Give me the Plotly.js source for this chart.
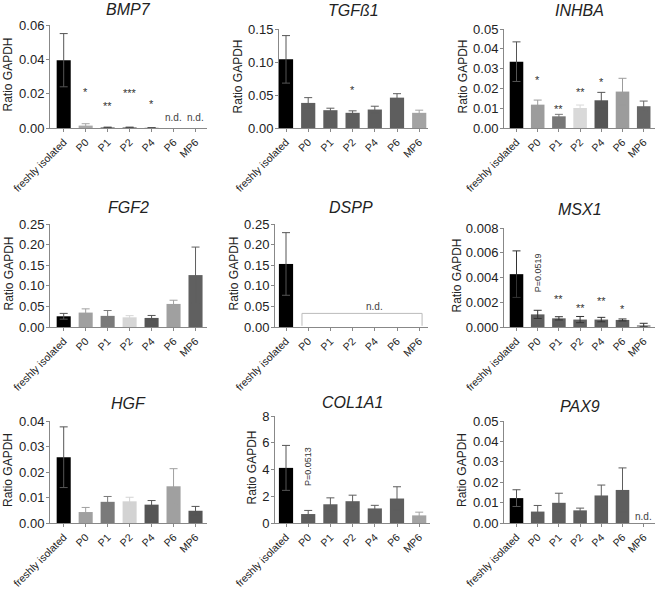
<!DOCTYPE html>
<html>
<head>
<meta charset="utf-8">
<script src="https://cdn.plot.ly/plotly-3.0.1.min.js"></script>
<style>
  html, body { margin: 0; padding: 0; background: #fff; }
  #chart { width: 656px; height: 591px; }
</style>
</head>
<body>
<div id="chart"></div>
<script>
// CATEGORIES (same for every gene)
var cats = ['freshly isolated', 'P0', 'P1', 'P2', 'P4', 'P6', 'MP6'];

// MEAN RATIO TO GAPDH, null = n.d.
var bmp7   = [0.0395, 0.0014, 0.0003, 0.0003, 0.0001, null, null];
var tgfb1  = [0.104, 0.038, 0.027, 0.023, 0.028, 0.046, 0.023];
var inhba  = [0.0335, 0.0118, 0.0059, 0.0101, 0.0140, 0.0184, 0.0110];
var fgf2   = [0.026, 0.035, 0.027, 0.0235, 0.022, 0.056, 0.126];
var dspp   = [0.153, null, null, null, null, null, null];
var msx1   = [0.00427, 0.00102, 0.0007, 0.0006, 0.0006, 0.00057, 0.00016];
var hgf    = [0.0258, 0.0043, 0.0083, 0.0085, 0.0072, 0.0144, 0.0048];
var col1a1 = [4.12, 0.67, 1.40, 1.63, 1.09, 1.83, 0.57];
var pax9   = [0.0122, 0.0056, 0.0099, 0.0062, 0.0135, 0.0162, null];

// ERROR BARS (SEM)
var bmp7Err   = [0.0155, 0.0011, 0.0002, 0.0002, 0, null, null];
var tgfb1Err  = [0.036, 0.008, 0.003, 0.003, 0.005, 0.006, 0.004];
var inhbaErr  = [0.0100, 0.0023, 0.0010, 0.0015, 0.0040, 0.0067, 0.0026];
var fgf2Err   = [0.007, 0.009, 0.013, 0.004, 0.006, 0.009, 0.068];
var dsppErr   = [0.076, null, null, null, null, null, null];
var msx1Err   = [0.00188, 0.00033, 0.00013, 0.00025, 0.00018, 0.00008, 0.00014];
var hgfErr    = [0.0119, 0.0018, 0.0021, 0.0016, 0.0016, 0.0069, 0.0017];
var col1a1Err = [1.68, 0.27, 0.48, 0.45, 0.23, 0.88, 0.24];
var pax9Err   = [0.0041, 0.0030, 0.0047, 0.0011, 0.0051, 0.0108, null];

// SIGNIFICANCE MARKS vs freshly isolated
var bmp7Stars  = {P0: '*', P1: '**', P2: '***', P4: '*'};
var bmp7StarY  = {P0: 0.0224, P1: 0.0139, P2: 0.0214, P4: 0.0152};
var tgfb1Stars = {P2: '*'};
var tgfb1StarY = {P2: 0.060};
var inhbaStars = {P0: '*', P1: '**', P2: '**', P4: '*'};
var inhbaStarY = {P0: 0.025, P1: 0.0105, P2: 0.019, P4: 0.024};
var msx1Stars  = {P1: '**', P2: '**', P4: '**', P6: '*'};
var msx1StarY  = {P1: 0.0024, P2: 0.0017, P4: 0.0023, P6: 0.0016};

// bar colours
var K = '#000000', D = '#5e5e5e', L = '#a3a3a3';
var panels = [
  {gene: 'BMP7',   y: bmp7,   err: bmp7Err,   max: 0.06,  dtick: 0.02,  fmt: '.2f',
   col: [K, '#a8a8a8', '#444', '#444', '#444', null, null],
   box: [50, 207, 25, 128], stars: bmp7Stars, starY: bmp7StarY,
   nd: [['P6', 0.006], ['MP6', 0.006]], titleY: 9},
  {gene: 'TGFß1',  y: tgfb1,  err: tgfb1Err,  max: 0.15,  dtick: 0.05,  fmt: '.2f',
   col: [K, D, D, D, D, D, L],
   box: [279, 428, 29, 128], stars: tgfb1Stars, starY: tgfb1StarY, titleY: 10},
  {gene: 'INHBA',  y: inhba,  err: inhbaErr,  max: 0.05,  dtick: 0.01,  fmt: '.2f',
   col: [K, '#9c9c9c', '#777777', '#d9d9d9', '#555555', '#9c9c9c', '#666666'],
   box: [504, 655, 29, 128], stars: inhbaStars, starY: inhbaStarY, titleY: 10},
  {gene: 'FGF2',   y: fgf2,   err: fgf2Err,   max: 0.25,  dtick: 0.05,  fmt: '.2f',
   col: [K, '#a0a0a0', '#7a7a7a', '#d6d6d6', '#555555', '#a0a0a0', '#606060'],
   box: [50, 207, 224, 327], titleY: 207},
  {gene: 'DSPP',   y: dspp,   err: dsppErr,   max: 0.25,  dtick: 0.05,  fmt: '.2f',
   col: [K], box: [275, 428, 224, 327], titleY: 207},
  {gene: 'MSX1',   y: msx1,   err: msx1Err,   max: 0.008, dtick: 0.002, fmt: '.3f',
   col: [K, D, D, D, D, D, '#a8a8a8'], errCol: '#333333',
   box: [504, 655, 228, 327], stars: msx1Stars, starY: msx1StarY,
   pval: ['P=0.0519', 'P0', 0.0044], titleY: 209},
  {gene: 'HGF',    y: hgf,    err: hgfErr,    max: 0.04,  dtick: 0.01,  fmt: '.2f',
   col: [K, '#a0a0a0', '#7a7a7a', '#d3d3d3', '#555555', '#a0a0a0', '#555555'],
   box: [50, 207, 421, 523], titleY: 403},
  {gene: 'COL1A1', y: col1a1, err: col1a1Err, max: 8,     dtick: 2,     fmt: 'd',
   col: [K, D, D, D, D, D, L],
   box: [275, 430, 416, 523], pval: ['P=0.0513', 'P0', 4.2], titleY: 402},
  {gene: 'PAX9',   y: pax9,   err: pax9Err,   max: 0.05,  dtick: 0.01,  fmt: '.2f',
   col: [K, D, D, D, D, D, null],
   box: [504, 655, 421, 523], nd: [['MP6', 0.003]], titleY: 406}
];

// first category centre and spacing (px) for each column
var colC0 = [63.7, 286, 516.5];
var colS  = [21.97, 22.2, 21.2];

var W = 656, H = 591;
var FONT = '"Liberation Sans", Arial, sans-serif';
var data = [];
var layout = {
  width: W, height: H,
  margin: {l: 0, r: 0, t: 0, b: 0},
  paper_bgcolor: '#fff', plot_bgcolor: '#fff',
  barmode: 'overlay',
  showlegend: false,
  font: {family: FONT, color: '#222'},
  annotations: [],
  shapes: []
};

panels.forEach(function (p, i) {
  var n = i + 1;
  var xa = 'x' + (n === 1 ? '' : n), ya = 'y' + (n === 1 ? '' : n);
  var c = i % 3;
  var b = p.box;

  // keep all seven categories on the axis
  data.push({type: 'scatter', mode: 'markers', x: cats, y: cats.map(function () { return null; }),
             xaxis: xa, yaxis: ya, hoverinfo: 'skip', showlegend: false});

  cats.forEach(function (cat, j) {
    if (p.y[j] === null || p.y[j] === undefined) return;
    var bc = p.col[j];
    var ec = p.errCol || (bc === K ? '#555555' : bc);
    data.push({
      type: 'bar', x: [cat], y: [p.y[j]], width: 0.64,
      marker: {color: bc, line: {width: 0}},
      error_y: {type: 'data', array: [p.err[j]], visible: true, color: ec, thickness: 1, width: 4},
      xaxis: xa, yaxis: ya, hoverinfo: 'x+y', showlegend: false
    });
  });

  layout['xaxis' + (n === 1 ? '' : n)] = {
    domain: [b[0] / W, b[1] / W], anchor: ya,
    type: 'category', categoryorder: 'array', categoryarray: cats,
    range: [(b[0] - colC0[c]) / colS[c], (b[1] - colC0[c]) / colS[c]],
    showline: true, linecolor: '#888', linewidth: 1,
    ticks: 'outside', ticklen: 3, tickcolor: '#888',
    tickangle: -45, tickfont: {size: 10.5, color: '#222'},
    showgrid: false, zeroline: false
  };
  layout['yaxis' + (n === 1 ? '' : n)] = {
    domain: [1 - b[3] / H, 1 - b[2] / H], anchor: xa,
    range: [0, p.max], dtick: p.dtick, tick0: 0, tickformat: p.fmt,
    showline: true, linecolor: '#888', linewidth: 1,
    ticks: 'outside', ticklen: 3, tickcolor: '#888', ticklabelstandoff: -1,
    tickfont: {size: 13, color: '#222'},
    showgrid: false, zeroline: false
  };

  // gene title
  layout.annotations.push({
    text: '<i>' + p.gene + '</i>', xref: 'paper', yref: 'paper',
    x: ((b[0] + b[1]) / 2) / W, y: 1 - p.titleY / H,
    xanchor: 'center', yanchor: 'middle', showarrow: false,
    font: {size: 16, color: '#222'}
  });
  // y title
  var labW = p.fmt === 'd' ? 8 : (p.fmt === '.3f' ? 33 : 27);
  layout.annotations.push({
    text: 'Ratio GAPDH', xref: 'paper', yref: 'paper',
    x: (b[0] - labW - 15) / W, y: 1 - ((b[2] + b[3]) / 2 - 2) / H,
    xanchor: 'center', yanchor: 'middle', textangle: -90, showarrow: false,
    font: {size: 12, color: '#222'}
  });

  if (p.stars) {
    Object.keys(p.stars).forEach(function (k) {
      layout.annotations.push({
        text: p.stars[k], x: k, y: p.starY[k], xref: xa, yref: ya,
        showarrow: false, yanchor: 'middle', yshift: -2,
        font: {size: 11, color: '#333'}
      });
    });
  }
  if (p.nd) {
    p.nd.forEach(function (d) {
      layout.annotations.push({
        text: 'n.d.', x: d[0], y: d[1], xref: xa, yref: ya,
        showarrow: false, yanchor: 'middle', font: {size: 10, color: '#444'}
      });
    });
  }
  if (p.pval) {
    layout.annotations.push({
      text: p.pval[0], x: p.pval[1], y: p.pval[2], xref: xa, yref: ya,
      showarrow: false, textangle: -90, xanchor: 'center', yanchor: 'middle',
      font: {size: 9, color: '#333'}
    });
  }
});

// DSPP: n.d. bracket over P0..MP6
var br = {xref: 'x5', yref: 'y5', type: 'line', line: {color: '#bbbbbb', width: 1}};
layout.shapes.push(Object.assign({x0: 0.72, x1: 0.72, y0: 0.003, y1: 0.033}, br));
layout.shapes.push(Object.assign({x0: 0.72, x1: 6.13, y0: 0.033, y1: 0.033}, br));
layout.shapes.push(Object.assign({x0: 6.13, x1: 6.13, y0: 0.003, y1: 0.033}, br));
layout.annotations.push({
  text: 'n.d.', x: 'P4', y: 0.05, xref: 'x5', yref: 'y5',
  showarrow: false, yanchor: 'middle', font: {size: 10, color: '#444'}
});

Plotly.newPlot('chart', data, layout, {displayModeBar: false, staticPlot: true});
</script>
</body>
</html>
